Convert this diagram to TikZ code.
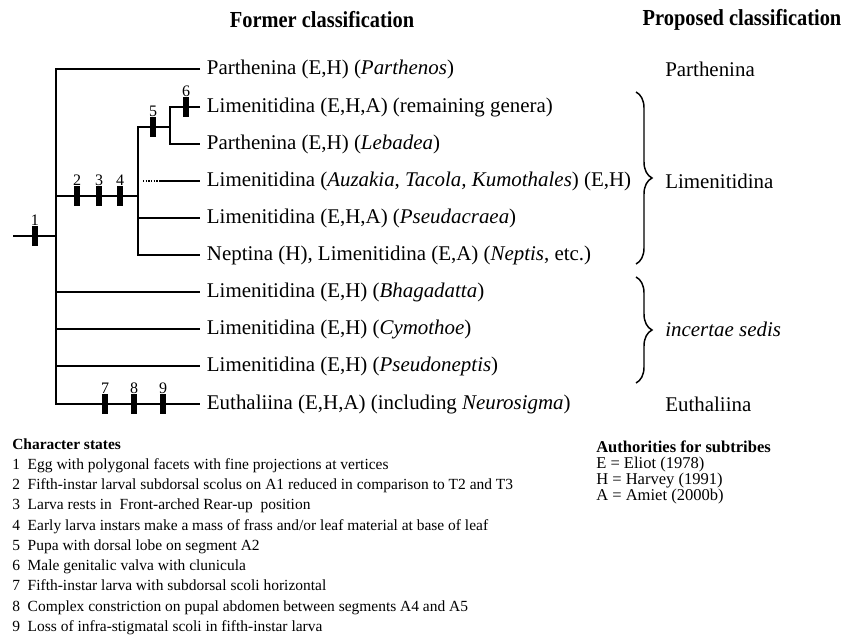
\documentclass[tikz,border=0pt]{standalone}
\usepackage{fontspec}
\setmainfont{Liberation Serif}
\newfontfamily\headfont[FakeStretch=0.89]{Liberation Serif}
\usepackage{tikz}
\usetikzlibrary{decorations.pathreplacing}

\begin{document}
\begin{tikzpicture}[x=0.75pt,y=-0.75pt]

%
% Styles
%
\tikzstyle{branch} = [line width=1.4pt]
\tikzstyle{taxon} = [anchor=west,inner xsep=5pt,inner ysep=0pt,font=\fontsize{15.7}{18}\selectfont]
\tikzstyle{group} = [anchor=west,inner sep=0pt,font=\fontsize{15.7}{18}\selectfont]
\tikzstyle{heading} = [inner sep=0pt,font=\headfont\bfseries\fontsize{17.2}{20}\selectfont]
\tikzstyle{tick} = [rectangle,fill=black,minimum width=4.5pt,minimum height=15pt,inner sep=0pt,label distance=2pt]
\tikzstyle{num} = [inner sep=0pt,font=\fontsize{12}{12}\selectfont]
\tikzstyle{brace} = [decorate,decoration={brace,amplitude=12pt},line width=1.1pt]

\useasboundingbox (0,0) rectangle (845,635);

% headings
\node[heading] (former) at (322,20) {Former classification};
\node[heading] (proposed) at (742,20) {Proposed classification};

% taxa
\node[taxon] (parthenos) at (200,69)  {Parthenina (E,H) (\textit{Parthenos})};
\node[taxon] (remaining) at (200,107) {Limenitidina (E,H,A) (remaining genera)};
\node[taxon] (lebadea)   at (200,144) {Parthenina (E,H) (\textit{Lebadea})};
\node[taxon] (auzakia)   at (200,181) {Limenitidina (\textit{Auzakia}, \textit{Tacola, Kumothales}) (E,H)};
\node[taxon] (pseudacr)  at (200,218) {Limenitidina (E,H,A) (\textit{Pseudacraea})};
\node[taxon] (neptis)    at (200,255) {Neptina (H), Limenitidina (E,A) (\textit{Neptis}, etc.)};
\node[taxon] (bhagad)    at (200,292) {Limenitidina (E,H) (\textit{Bhagadatta})};
\node[taxon] (cymoth)    at (200,329) {Limenitidina (E,H) (\textit{Cymothoe})};
\node[taxon] (pseudon)   at (200,366) {Limenitidina (E,H) (\textit{Pseudoneptis})};
\node[taxon] (euthal)    at (200,404) {Euthaliina (E,H,A) (including \textit{Neurosigma})};

% junctions
\coordinate (root) at (13,236);
\coordinate (base) at (56,236);
\coordinate (limA) at (138,196);
\coordinate (limB) at (170,127);
\coordinate (dotA) at (143,181);
\coordinate (dotB) at (160,181);

% tree
\draw[branch] (root) -- (base);
\draw[branch] (parthenos.west) -| (base) |- (euthal.west);
\draw[branch] (base |- limA) -- (limA);
\draw[branch] (limB) -| (limA) |- (neptis.west);
\draw[branch] (remaining.west) -| (limB) |- (lebadea.west);
\draw[branch] (limA |- pseudacr.west) -- (pseudacr.west);
\draw[line width=1.1pt,dash pattern=on 1pt off 1pt] (dotA) -- (dotB);
\draw[branch] (dotB) -- (auzakia.west);
\draw[branch] (base |- bhagad.west) -- (bhagad.west);
\draw[branch] (base |- cymoth.west) -- (cymoth.west);
\draw[branch] (base |- pseudon.west) -- (pseudon.west);

% character states
\node[tick,label={[num]above:1}] (s1) at (35,236) {};
\node[tick,label={[num]above:2}] (s2) at (77,196) {};
\node[tick,label={[num]above:3}] (s3) at (99,196) {};
\node[tick,label={[num]above:4}] (s4) at (120,196) {};
\node[tick,label={[num]above:5}] (s5) at (153,127) {};
\node[tick,label={[num]above:6}] (s6) at (186,107) {};
\node[tick,label={[num]above:7}] (s7) at (105,404) {};
\node[tick,label={[num]above:8}] (s8) at (134,404) {};
\node[tick,label={[num]above:9}] (s9) at (163,404) {};

% proposed classification
\node[group] (gparth) at (665,69)  {Parthenina};
\node[group] (glimen) at (665,181) {Limenitidina};
\node[group] (gincert) at (665,329) {\textit{incertae sedis}};
\node[group] (geuth) at (665,404) {Euthaliina};

\coordinate (brA1) at (636,92);
\coordinate (brA2) at (636,264);
\coordinate (brB1) at (636,277);
\coordinate (brB2) at (636,383);
\draw[brace] (brA1) -- (brA2);
\draw[brace] (brB1) -- (brB2);

% legends
\node[anchor=north west,inner sep=0pt,align=left,font=\fontsize{11.6}{15.2}\selectfont] (states) at (12,438) {%
\textbf{Character states}\\
1\enspace Egg with polygonal facets with fine projections at vertices\\
2\enspace Fifth-instar larval subdorsal scolus on A1 reduced in comparison to T2 and T3\\
3\enspace Larva rests in\ \ Front-arched Rear-up\ \ position\\
4\enspace Early larva instars make a mass of frass and/or leaf material at base of leaf\\
5\enspace Pupa with dorsal lobe on segment A2\\
6\enspace Male genitalic valva with clunicula\\
7\enspace Fifth-instar larva with subdorsal scoli horizontal\\
8\enspace Complex constriction on pupal abdomen between segments A4 and A5\\
9\enspace Loss of infra-stigmatal scoli in fifth-instar larva};

\node[anchor=north west,inner sep=0pt,align=left,font=\fontsize{12.4}{12}\selectfont] (authors) at (596,441) {%
\textbf{Authorities for subtribes}\\
E = Eliot (1978)\\
H = Harvey (1991)\\
A = Amiet (2000b)};

\end{tikzpicture}
\end{document}
